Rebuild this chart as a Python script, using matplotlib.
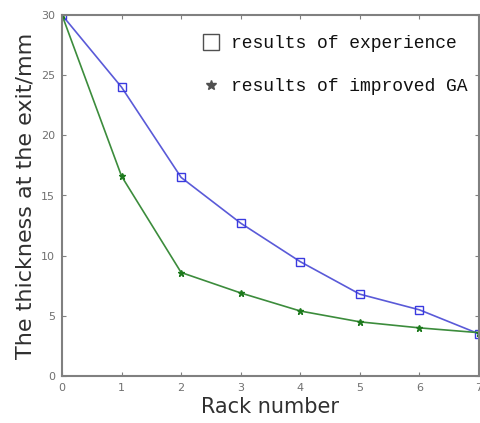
import matplotlib.pyplot as plt
import numpy as np

# rack numbers and exit thickness (mm)
racks = [0, 1, 2, 3, 4, 5, 6, 7]
experience = [30.0, 24.0, 16.5, 12.7, 9.5, 6.8, 5.5, 3.5]
improved_ga = [30.0, 16.6, 8.6, 6.9, 5.4, 4.5, 4.0, 3.6]

fig = plt.figure(figsize=(4.81, 4.23), dpi=100)
ax = fig.add_axes([62 / 481, 47 / 423, 417 / 481, 361 / 423])

ax.plot(racks, experience, color='#5a5ad8', lw=1.2, marker='s', ms=6,
        mfc='none', mec='#3a3ae0', mew=1.0, label='results of experience')
ax.plot(racks, improved_ga, color='#3c8c3c', lw=1.2, marker='*', ms=5,
        mfc='#1e7a1e', mec='#1e7a1e', label='results of improved GA')

ax.set_xlim(0, 7)
ax.set_ylim(0, 30)
ax.set_xticks(range(0, 8))
ax.set_yticks(range(0, 31, 5))

for sp in ax.spines.values():
    sp.set_color('#808080')
    sp.set_linewidth(1.5)
ax.tick_params(direction='in', top=True, right=True, length=3,
               colors='#808080', labelsize=8, labelcolor='#707070', pad=5)

ax.set_xlabel('Rack number', fontsize=15, color='#303030', labelpad=3)
ax.set_ylabel('The thickness at the exit/mm', fontsize=16, color='#303030', labelpad=4)

leg = ax.legend(loc='upper right', bbox_to_anchor=(0.99, 0.965), frameon=False,
                handlelength=1.2, handletextpad=0.5, labelspacing=1.45,
                borderaxespad=0,
                prop={'family': 'Liberation Mono', 'size': 13})
for h in leg.legend_handles:
    h.set_linestyle('none')
leg.legend_handles[0].set_markeredgecolor('#505050')
leg.legend_handles[0].set_markersize(11)
leg.legend_handles[1].set_markeredgecolor('#505050')
leg.legend_handles[1].set_markerfacecolor('#505050')
leg.legend_handles[1].set_markersize(7)
for t in leg.get_texts():
    t.set_color('#101010')

fig.savefig('out.png', dpi=100)
